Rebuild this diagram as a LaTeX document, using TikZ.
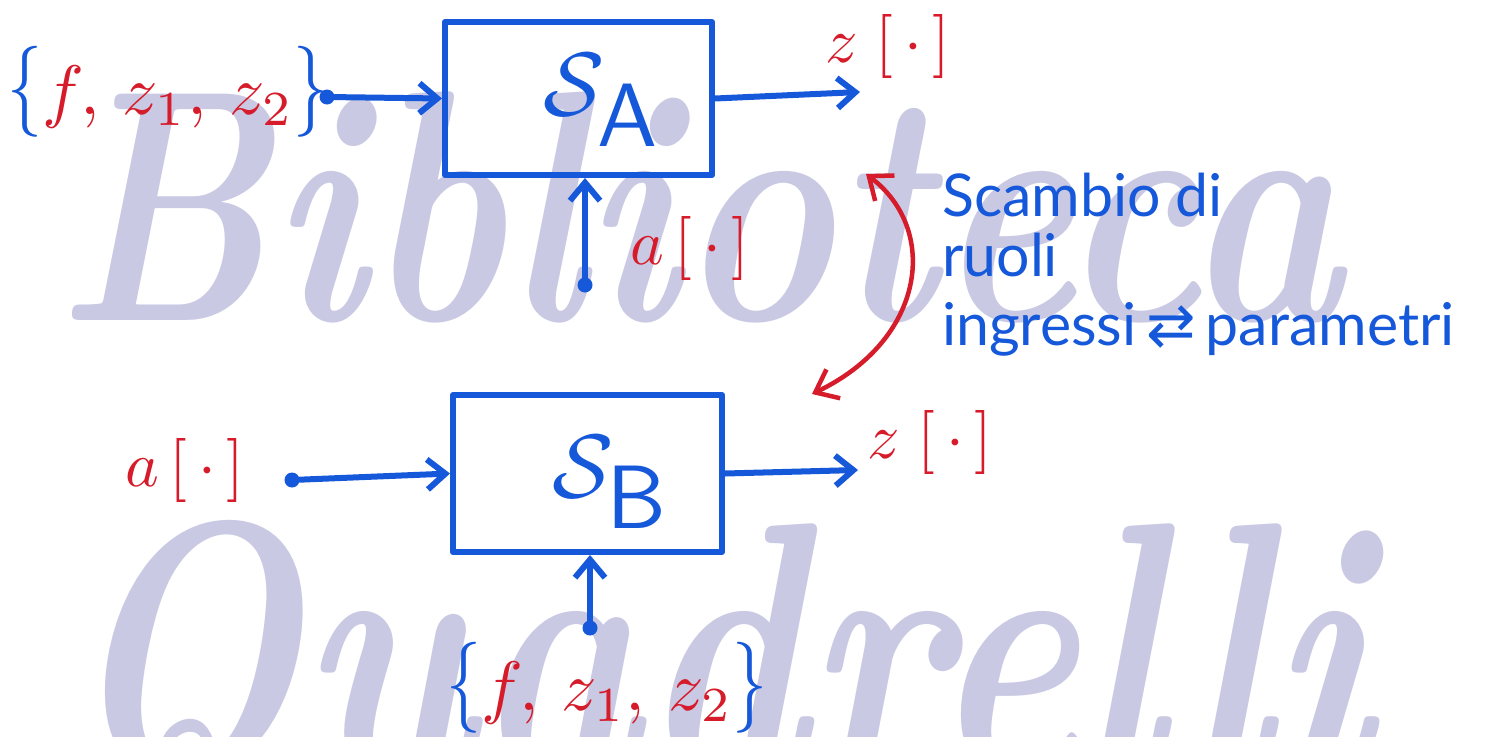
\documentclass[tikz,border=0pt]{standalone}
\usepackage{fontspec}
\usepackage{graphicx}
\usetikzlibrary{arrows.meta}
\newfontfamily\handfont{Lato}
\newfontfamily\symfont{DejaVu Sans}
\definecolor{penblue}{RGB}{22,88,218}
\definecolor{penred}{RGB}{214,28,42}
\definecolor{wmark}{RGB}{201,201,228}
\newcommand{\bluebrace}[1]{\textcolor{penblue}{\scalebox{1}[1.3]{$#1$}}}
\begin{document}
\begin{tikzpicture}[x={(1pt,0)}, y={(0,-1pt)},
  ink/.style={line width=6pt, draw=penblue, line cap=round, line join=round},
  flow/.style={ink, -{Straight Barb[length=18pt,width=30pt]}},
  blockbox/.style={ink, rectangle, inner sep=0pt},
  dot/.style={circle, fill=penblue, inner sep=0pt, minimum size=15pt},
  lbl/.style={text=penred, inner sep=0pt, scale=6.4},
  setlbl/.style={text=penred, inner sep=0pt, scale=7.0},
  sysname/.style={text=penblue, inner sep=0pt, scale=9},
  note/.style={text=penblue, inner sep=0pt, font=\handfont\fontsize{59}{62}\selectfont},
  wm/.style={text=wmark, inner sep=0pt, font=\fontsize{330}{330}\selectfont\bfseries\itshape},
  swaparrow/.style={draw=penred, line width=4.5pt, line cap=round,
    {Straight Barb[length=20pt,width=32pt]}-{Straight Barb[length=20pt,width=32pt]}},
]
\useasboundingbox (0,0) rectangle (1493,736);
\fill[white] (0,0) rectangle (1493,736);

% library watermark
\node[wm, xscale=0.8, anchor=base west] (wm1) at (55,320) {Biblioteca};
\node[wm, xscale=0.85, yscale=1.1, anchor=base west] (wm2) at (60,775) {Quadrelli};

% system A
\node[blockbox, minimum width=267pt, minimum height=153pt] (A) at (578.5,98.5) {};
\node[sysname] (SA) at (603,100) {$\mathcal{S}_{\textstyle\mathsf{A}}$};

\node[setlbl, anchor=west] (inA) at (6,92)
  {\bluebrace{\{}$f,\,z_1,\,z_2$\bluebrace{\}}};
\node[dot] (dA) at (327,97) {};
\draw[flow] (dA) -- (A.west);

\coordinate (oA) at (860,92);
\draw[flow] (A.east) -- (oA);
\node[lbl] (zA) at (888,46) {$z\;[\,\cdot\,]$};

\node[dot] (aA) at (585,285) {};
\draw[flow] (aA) -- (aA |- A.south);
\node[lbl] (aAl) at (690,248) {$a\,[\,\cdot\,]$};

% system B
\node[blockbox, minimum width=269pt, minimum height=157pt] (B) at (587.5,473.5) {};
\node[sysname] (SB) at (612,482) {$\mathcal{S}_{\textstyle\mathsf{B}}$};

\node[lbl] (aBl) at (185,470) {$a\,[\,\cdot\,]$};
\node[dot] (dB) at (292,480) {};
\draw[flow] (dB) -- (B.west);

\coordinate (oB) at (858,470);
\draw[flow] (B.east) -- (oB);
\node[lbl] (zB) at (930,442) {$z\;[\,\cdot\,]$};

\node[dot] (fB) at (590,628) {};
\draw[flow] (fB) -- (fB |- B.south);
\node[setlbl] (inB) at (607,688)
  {\bluebrace{\{}$f,\,z_1,\,z_2$\bluebrace{\}}};

% role exchange
\coordinate (sw1) at (866,174);
\coordinate (sw2) at (812,394);
\draw[swaparrow] (sw1) .. controls (940,230) and (925,340) .. (sw2);

\node[note, anchor=base west] (t1) at (942,216) {Scambio di};
\node[note, anchor=base west] (t2) at (942,276) {ruoli};
\node[note, anchor=base west] (t3) at (942,345)
  {ingressi{\symfont\,⇄\,}parametri};
\end{tikzpicture}
\end{document}
